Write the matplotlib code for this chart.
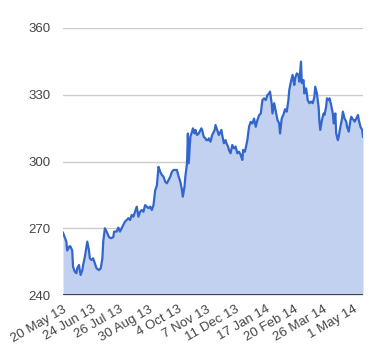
import matplotlib
matplotlib.use("Agg")
import matplotlib.pyplot as plt
import matplotlib.transforms as mtransforms
import numpy as np
import datetime as dt
import matplotlib.dates as mdates

start_date = "2013-05-20"
day_offsets = [0, 4, 5, 8, 9, 11, 12, 14, 16, 17, 19, 21, 23, 24, 26, 28, 29, 31, 32, 34,
               36, 38, 40, 43, 45, 47, 48, 50, 52, 55, 57, 60, 61, 64, 66, 68, 70, 72, 74, 76,
               78, 80, 82, 84, 86, 88, 90, 92, 94, 96, 98, 100, 102, 104, 106, 108, 110, 112, 114, 116,
               118, 120, 122, 124, 126, 128, 130, 132, 134, 136, 138, 140, 142, 143, 145, 146, 148, 149, 150, 152,
               154, 155, 157, 158, 160, 162, 163, 165, 166, 168, 170, 171, 173, 174, 176, 178, 179, 181, 182, 184,
               186, 187, 189, 190, 192, 194, 195, 197, 198, 200, 202, 204, 206, 208, 210, 212, 214, 215, 217, 218,
               220, 222, 224, 226, 228, 230, 232, 234, 236, 238, 240, 242, 244, 246, 247, 249, 250, 252, 254, 256,
               258, 259, 261, 263, 265, 267, 269, 270, 272, 274, 276, 277, 279, 281, 282, 284, 285, 287, 288, 290,
               291, 292, 294, 296, 298, 300, 301, 303, 305, 306, 307, 309, 311, 312, 314, 315, 317, 318, 320, 322,
               323, 325, 326, 328, 329, 331, 333, 334, 336, 338, 339, 341, 343, 344, 345, 347, 348, 350, 352, 353,
               355, 357, 358]
prices = [268.0, 264.0, 260.0, 262.0, 261.7, 260.0, 252.7, 250.5, 249.8, 252.0, 253.5, 249.0, 251.0, 253.5, 257.0, 261.7, 264.0, 260.0, 256.5, 255.7,
          256.5, 254.3, 252.0, 251.2, 252.0, 256.5, 264.0, 270.0, 268.5, 266.0, 265.5, 266.0, 268.5, 268.5, 270.3, 268.5, 270.0, 271.5, 273.0, 273.7,
          274.5, 273.7, 276.0, 275.2, 277.4, 279.7, 275.2, 277.4, 278.2, 277.4, 280.4, 279.7, 279.0, 279.7, 278.2, 280.4, 287.0, 289.2, 297.6, 295.4,
          294.0, 293.1, 290.9, 290.2, 291.7, 293.2, 295.4, 296.2, 296.2, 296.2, 293.2, 290.9, 287.2, 284.2, 288.7, 293.2, 299.2, 312.6, 299.2, 311.1,
          313.4, 314.9, 312.6, 314.2, 311.9, 312.6, 313.4, 314.9, 314.2, 311.1, 310.4, 309.6, 309.6, 310.4, 308.9, 311.9, 312.6, 314.2, 316.4, 314.2,
          311.9, 312.6, 314.2, 311.9, 308.2, 309.6, 308.2, 306.7, 305.2, 303.7, 307.4, 305.9, 306.7, 303.7, 304.4, 303.0, 300.7, 305.2, 304.4, 305.9,
          309.6, 315.6, 317.8, 317.1, 319.3, 315.6, 318.6, 320.8, 321.6, 327.6, 328.4, 327.6, 329.9, 330.6, 331.4, 326.2, 321.6, 326.2, 322.4, 318.6,
          317.1, 312.6, 319.3, 321.0, 323.5, 322.4, 327.6, 332.1, 335.9, 338.9, 334.4, 337.4, 339.6, 338.9, 335.9, 344.9, 335.2, 336.6, 330.6, 332.9,
          330.6, 327.6, 326.2, 326.9, 326.2, 329.1, 333.6, 330.6, 324.6, 317.9, 314.2, 318.6, 321.6, 320.9, 324.6, 328.4, 327.6, 328.4, 325.4, 321.6,
          317.1, 321.6, 312.6, 309.6, 311.1, 315.6, 319.3, 322.4, 319.3, 317.9, 315.6, 313.4, 318.6, 320.1, 319.3, 318.6, 317.9, 319.3, 320.9, 318.6,
          315.6, 314.2, 311.1]

tick_dates = ["2013-05-20", "2013-06-24", "2013-07-26", "2013-08-30", "2013-10-04", "2013-11-07",
              "2013-12-11", "2014-01-17", "2014-02-20", "2014-03-26", "2014-05-01"]
tick_labels = ["20 May 13", "24 Jun 13", "26 Jul 13", "30 Aug 13", "4 Oct 13", "7 Nov 13",
               "11 Dec 13", "17 Jan 14", "20 Feb 14", "26 Mar 14", "1 May 14"]
y_ticks = [240, 270, 300, 330, 360]

base = dt.datetime.strptime(start_date, "%Y-%m-%d")
dates = [base + dt.timedelta(days=d) for d in day_offsets]
x = mdates.date2num(dates)
xt = mdates.date2num([dt.datetime.strptime(s, "%Y-%m-%d") for s in tick_dates])

plt.rcParams['font.family'] = ['Liberation Sans', 'DejaVu Sans']

fig = plt.figure(figsize=(3.8, 3.6), dpi=100)
ax = fig.add_axes([63/380, 1-295/360, 300/380, (295-28)/360])

line_color = "#3366cc"
ax.fill_between(x, y_ticks[0], prices, color="#c2d1f0", lw=0, zorder=1)
ax.plot(x, prices, color=line_color, lw=1.6, zorder=3, solid_joinstyle='round')

ax.set_ylim(y_ticks[0], y_ticks[-1])
ax.set_xlim(x[0], x[-1])
ax.set_yticks(y_ticks)
ax.set_yticklabels([str(v) for v in y_ticks])
for v in y_ticks[1:]:
    ax.axhline(v, color="#cccccc", lw=1, zorder=0)
ax.axhline(y_ticks[0], color="#333333", lw=1.3, zorder=4)

ax.set_xticks(xt)
ax.set_xticklabels(tick_labels, rotation=30, ha='right', va='top', rotation_mode='anchor')
offset = mtransforms.ScaledTranslation(-3/100, 0, fig.dpi_scale_trans)
for lbl in ax.get_xticklabels():
    lbl.set_transform(lbl.get_transform() + offset)

for s in ax.spines.values():
    s.set_visible(False)
ax.tick_params(axis='both', length=0, labelsize=9.5, labelcolor="#444444")
ax.tick_params(axis='y', pad=9)
ax.tick_params(axis='x', pad=6)

fig.savefig("out.png", dpi=100)
